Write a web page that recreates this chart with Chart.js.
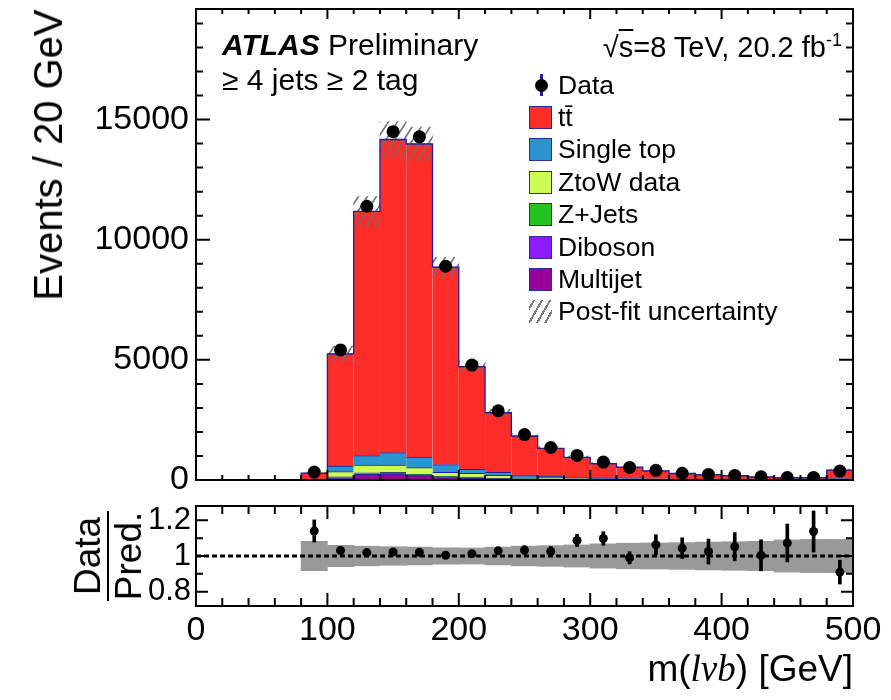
<!DOCTYPE html>
<html lang="en">
<head>
<meta charset="UTF-8" />
<title>m(lvb) - ATLAS Preliminary</title>
<script src="https://cdn.jsdelivr.net/npm/chart.js@4.4.1/dist/chart.umd.min.js"></script>
<style>
  body { margin: 0; background: #fff; font-family: "Liberation Sans", Arial, sans-serif; }
  #wrap { position: relative; width: 891px; height: 700px; overflow: hidden; }
  canvas { position: absolute; left: 0; }
  .txt { position: absolute; white-space: nowrap; line-height: 1; color: #000; }
  .box { position: absolute; width: 21px; height: 21px; border: 1px solid #2a2aa0; }
</style>
</head>
<body>
<div id="wrap">
  <canvas id="main" width="891" height="540" style="top:-30px"></canvas>
  <canvas id="ratio" width="891" height="230" style="top:470px"></canvas>

  <div class="txt" style="left:222px; top:30px; font-size:30px;"><b><i>ATLAS</i></b> Preliminary</div>
  <div class="txt" style="right:49px; top:31px; font-size:29px;">&radic;<span style="text-decoration:overline">s</span>=8 TeV, 20.2 fb<sup style="font-size:18px; vertical-align:11px;">-1</sup></div>
  <div class="txt" style="left:222px; top:65px; font-size:30px;">&ge; 4 jets &ge; 2 tag</div>

  <div class="txt" style="left:48px; top:155px; font-size:40px; transform:translate(-50%,-50%) rotate(-90deg);">Events / 20 GeV</div>
  <div class="txt" style="left:108px; top:556px; font-size:37px; transform:translate(-50%,-50%) rotate(-90deg); display:flex; flex-direction:column; align-items:center;">
    <span style="border-bottom:2px solid #000; padding:0 6px 1px;">Data</span>
    <span style="padding-top:1px;">Pred.</span>
  </div>
  <div class="txt" style="right:38px; top:650px; font-size:37px;">m(<i style="font-family:'Liberation Serif', serif;">l&nu;b</i>) [GeV]</div>

  <div id="legend"></div>
</div>

<script>
  // bins of 20 GeV, 0-500
  const BIN_CENTERS = [10, 30, 50, 70, 90, 110, 130, 150, 170, 190, 210, 230, 250, 270, 290, 310, 330, 350, 370, 390, 410, 430, 450, 470, 490];
  const BIN_EDGES = [0, 20, 40, 60, 80, 100, 120, 140, 160, 180, 200, 220, 240, 260, 280, 300, 320, 340, 360, 380, 400, 420, 440, 460, 480, 500];

  // stacked predictions (events / bin)
  const MULTIJET   = [0, 0, 0, 0, 5, 60, 236, 250, 180, 100, 80, 50, 30, 20, 15, 10, 8, 6, 5, 4, 3, 3, 2, 2, 8];
  const DIBOSON    = [0, 0, 0, 0, 2, 10, 10, 12, 10, 8, 6, 5, 4, 3, 3, 2, 2, 2, 1, 1, 1, 1, 1, 1, 3];
  const ZJETS      = [0, 0, 0, 0, 5, 60, 54, 55, 50, 40, 35, 25, 20, 15, 10, 8, 6, 5, 4, 3, 3, 2, 2, 2, 6];
  const ZTOW       = [0, 0, 0, 0, 10, 217, 325, 308, 274, 172, 157, 115, 76, 50, 35, 25, 18, 14, 10, 8, 6, 5, 4, 4, 15];
  const SINGLE_TOP = [0, 0, 0, 0, 15, 236, 389, 514, 444, 320, 166, 125, 78, 60, 45, 35, 28, 22, 16, 13, 10, 8, 7, 6, 25];
  const TTBAR      = [0, 0, 0, 0, 253, 4667, 10166, 13031, 13027, 8220, 4276, 2480, 1622, 1172, 832, 600, 468, 331, 234, 196, 157, 111, 79, 80, 353];

  const DATA = [null, null, null, null, 330, 5413, 11392, 14496, 14279, 8895, 4781, 2881, 1890, 1353, 1022, 747, 525, 404, 282, 231, 189, 131, 102, 108, 373];

  // ratio panel
  const RATIO     = [null, null, null, null, 1.140, 1.031, 1.019, 1.023, 1.021, 1.004, 1.013, 1.029, 1.033, 1.025, 1.087, 1.098, 0.990, 1.063, 1.044, 1.025, 1.052, 1.004, 1.073, 1.137, 0.910];
  const RATIO_ERR = [null, null, null, null, 0.062, 0.012, 0.010, 0.009, 0.009, 0.011, 0.015, 0.019, 0.024, 0.028, 0.034, 0.038, 0.034, 0.056, 0.058, 0.070, 0.079, 0.087, 0.106, 0.115, 0.067];
  // relative post-fit uncertainty of the prediction
  const MC_UNC    = [null, null, null, null, 0.082, 0.060, 0.055, 0.052, 0.050, 0.046, 0.045, 0.050, 0.055, 0.058, 0.062, 0.068, 0.072, 0.073, 0.075, 0.078, 0.080, 0.082, 0.090, 0.093, 0.093];

  const X_TICKS = [0, 100, 200, 300, 400, 500];
  const MAIN_Y_TICKS = [0, 5000, 10000, 15000];
  const RATIO_Y_TICKS = [0.8, 1, 1.2];

  const LEGEND_NAMES = ["Data", "t\u0074\u0304", "Single top", "ZtoW data", "Z+Jets", "Diboson", "Multijet", "Post-fit uncertainty"];
  const COLORS = {
    ttbar: "#ff2d2a",
    single: "#2b94d0",
    ztow: "#cdfd55",
    zjets: "#23c323",
    diboson: "#8a1cff",
    multijet: "#990099",
  };
  const NAVY = "#1f1f9e";
  const FONT = "'Liberation Sans', Arial, sans-serif";

  // hatch for post-fit uncertainty
  function hatchPattern() {
    const c = document.createElement("canvas");
    c.width = 9;
    c.height = 14;
    const g = c.getContext("2d");
    g.strokeStyle = "#6f6f6f";
    g.lineWidth = 1.6;
    g.beginPath();
    g.moveTo(0, 14); g.lineTo(9, 0);
    g.moveTo(-9, 14); g.lineTo(0, 0);
    g.moveTo(9, 14); g.lineTo(18, 0);
    g.stroke();
    return g.createPattern(c, "repeat");
  }

  // frame + inward ROOT style ticks
  function frameTicks(cfg) {
    return {
      id: "frameTicks",
      afterDatasetsDraw(chart) {
        const { ctx, chartArea: a, scales } = chart;
        const x = scales.x, y = scales.y;
        ctx.save();
        ctx.strokeStyle = "#000";
        ctx.lineWidth = 2;
        ctx.beginPath();
        cfg.xMajor.forEach((v) => {
          const px = x.getPixelForValue(v);
          ctx.moveTo(px, a.bottom); ctx.lineTo(px, a.bottom - cfg.xMajLen);
          ctx.moveTo(px, a.top); ctx.lineTo(px, a.top + cfg.xMajLen);
        });
        cfg.xMinor.forEach((v) => {
          const px = x.getPixelForValue(v);
          ctx.moveTo(px, a.bottom); ctx.lineTo(px, a.bottom - cfg.xMinLen);
          ctx.moveTo(px, a.top); ctx.lineTo(px, a.top + cfg.xMinLen);
        });
        cfg.yMajor.forEach((v) => {
          const py = y.getPixelForValue(v);
          ctx.moveTo(a.left, py); ctx.lineTo(a.left + cfg.yMajLen, py);
          ctx.moveTo(a.right, py); ctx.lineTo(a.right - cfg.yMajLen, py);
        });
        cfg.yMinor.forEach((v) => {
          const py = y.getPixelForValue(v);
          ctx.moveTo(a.left, py); ctx.lineTo(a.left + cfg.yMinLen, py);
          ctx.moveTo(a.right, py); ctx.lineTo(a.right - cfg.yMinLen, py);
        });
        ctx.stroke();
        ctx.strokeRect(a.left, a.top, a.right - a.left, a.bottom - a.top);
        ctx.restore();
      },
    };
  }

  const xMinor = [];
  for (let v = 20; v < 500; v += 20) if (v % 100 !== 0) xMinor.push(v);
  const mainYMinor = [];
  for (let v = 1000; v < 19600; v += 1000) if (v % 5000 !== 0) mainYMinor.push(v);

  // tables built from the arrays
  const totals = BIN_CENTERS.map((c, i) => MULTIJET[i] + DIBOSON[i] + ZJETS[i] + ZTOW[i] + SINGLE_TOP[i] + TTBAR[i]);
  const outline = BIN_EDGES.map((e, i) => ({ x: e, y: totals[Math.min(i, totals.length - 1)] }));
  const layer = (arr) => BIN_CENTERS.map((c, i) => ({ x: c, y: arr[i] }));
  const mainBand = [];
  const ratioBand = [];
  const dataPts = [];
  const ratioPts = [];
  const ratioErr = [];
  for (let i = 0; i < BIN_CENTERS.length; i++) {
    const c = BIN_CENTERS[i];
    if (MC_UNC[i] != null) {
      mainBand.push({ x: c, y: [totals[i] * (1 - MC_UNC[i]), totals[i] * (1 + MC_UNC[i])] });
      ratioBand.push({ x: c, y: [1 - MC_UNC[i], 1 + MC_UNC[i]] });
    }
    if (DATA[i] != null) dataPts.push({ x: c, y: DATA[i] });
    if (RATIO[i] != null) {
      ratioPts.push({ x: c, y: RATIO[i] });
      ratioErr.push({ x: c, y: [RATIO[i] - RATIO_ERR[i], RATIO[i] + RATIO_ERR[i]] });
    }
  }

  const mcLayer = (label, arr, color) => ({
    type: "bar",
    label: label,
    yAxisID: "y",
    data: layer(arr),
    backgroundColor: color,
    borderColor: NAVY,
    borderWidth: { top: 1, left: 0, right: 0, bottom: 0 },
    borderSkipped: false,
    order: 3,
  });

  const mainChart = new Chart(document.getElementById("main"), {
    type: "bar",
    data: {
      datasets: [
        { type: "line", label: "Data", yAxisID: "y2", data: dataPts, showLine: false, pointRadius: 6.5, pointBackgroundColor: "#000", pointBorderWidth: 0, order: 0 },
        { type: "line", label: "outline", yAxisID: "y2", data: outline, stepped: true, borderColor: NAVY, borderWidth: 1.3, pointRadius: 0, fill: false, order: 1 },
        { type: "bar", label: "Post-fit uncertainty", yAxisID: "y2", data: mainBand, backgroundColor: hatchPattern(), borderWidth: 0, order: 2 },
        mcLayer("Multijet", MULTIJET, COLORS.multijet),
        mcLayer("Diboson", DIBOSON, COLORS.diboson),
        mcLayer("Z+Jets", ZJETS, COLORS.zjets),
        mcLayer("ZtoW data", ZTOW, COLORS.ztow),
        mcLayer("Single top", SINGLE_TOP, COLORS.single),
        mcLayer("ttbar", TTBAR, COLORS.ttbar),
      ],
    },
    options: {
      responsive: false,
      animation: false,
      devicePixelRatio: 1,
      events: [],
      layout: { padding: { top: 39, right: 38, bottom: 30, left: 0 } },
      datasets: { bar: { barPercentage: 1, categoryPercentage: 1 } },
      plugins: { legend: { display: false }, tooltip: { enabled: false } },
      scales: {
        x: { type: "linear", min: 0, max: 500, stacked: true, offset: false, display: false, grid: { offset: false } },
        y: {
          stacked: true,
          min: 0,
          max: 19600,
          grid: { display: false, drawTicks: false },
          border: { display: false },
          afterBuildTicks: (s) => { s.ticks = MAIN_Y_TICKS.map((v) => ({ value: v })); },
          afterFit: (s) => { s.width = 196; s.paddingTop = 0; s.paddingBottom = 0; },
          ticks: { padding: 7, color: "#000", font: { family: FONT, size: 34 }, callback: (v) => String(v) },
        },
        y2: { display: false, min: 0, max: 19600 },
      },
    },
    plugins: [frameTicks({ xMajor: X_TICKS, xMinor: xMinor, xMajLen: 10, xMinLen: 5, yMajor: MAIN_Y_TICKS, yMinor: mainYMinor, yMajLen: 14, yMinLen: 7 })],
  });

  const ratioChart = new Chart(document.getElementById("ratio"), {
    type: "bar",
    data: {
      datasets: [
        { type: "line", data: ratioPts, showLine: false, pointRadius: 4.5, pointBackgroundColor: "#000", pointBorderWidth: 0, order: 0 },
        { type: "bar", data: ratioErr, backgroundColor: "#000", barThickness: 3, borderWidth: 0, order: 1 },
        { type: "line", data: [{ x: 0, y: 1 }, { x: 500, y: 1 }], borderColor: "#000", borderWidth: 3, borderDash: [5, 3], pointRadius: 0, fill: false, order: 2 },
        { type: "bar", data: ratioBand, backgroundColor: "#999999", borderWidth: 0, order: 3 },
      ],
    },
    options: {
      responsive: false,
      animation: false,
      devicePixelRatio: 1,
      events: [],
      layout: { padding: { top: 36, right: 38, bottom: 0, left: 0 } },
      datasets: { bar: { barPercentage: 1, categoryPercentage: 1 } },
      plugins: { legend: { display: false }, tooltip: { enabled: false } },
      scales: {
        x: {
          type: "linear",
          min: 0,
          max: 500,
          stacked: true,
          offset: false,
          grid: { display: false, drawTicks: false, offset: false },
          border: { display: false },
          afterBuildTicks: (s) => { s.ticks = X_TICKS.map((v) => ({ value: v })); },
          afterFit: (s) => { s.height = 94; s.paddingLeft = 0; s.paddingRight = 0; },
          ticks: { padding: 4, maxRotation: 0, color: "#000", font: { family: FONT, size: 34 }, callback: (v) => String(v) },
        },
        y: {
          min: 0.72,
          max: 1.28,
          grid: { display: false, drawTicks: false },
          border: { display: false },
          afterBuildTicks: (s) => { s.ticks = RATIO_Y_TICKS.map((v) => ({ value: v })); },
          afterFit: (s) => { s.width = 196; s.paddingTop = 0; s.paddingBottom = 0; },
          ticks: { padding: 5, color: "#000", font: { family: FONT, size: 31 }, callback: (v) => (v === 1 ? "1" : v.toFixed(1)) },
        },
      },
    },
    plugins: [frameTicks({ xMajor: X_TICKS, xMinor: xMinor, xMajLen: 13, xMinLen: 8, yMajor: RATIO_Y_TICKS, yMinor: [0.9, 1.1], yMajLen: 12, yMinLen: 7 })],
  });

  // legend (html text)
  const legendSwatches = [null, COLORS.ttbar, COLORS.single, COLORS.ztow, COLORS.zjets, COLORS.diboson, COLORS.multijet, "hatch"];
  const legend = document.getElementById("legend");
  let html = "";
  for (let i = 0; i < LEGEND_NAMES.length; i++) {
    const cy = 85 + i * 32.4;
    const sw = legendSwatches[i];
    if (sw === null) {
      html += `<div style="position:absolute; left:540px; top:${cy - 11}px; width:3px; height:22px; background:${NAVY};"></div>`;
      html += `<div style="position:absolute; left:535px; top:${cy - 6.5}px; width:13px; height:13px; border-radius:50%; background:#000;"></div>`;
    } else if (sw === "hatch") {
      html += `<div style="position:absolute; left:529px; top:${cy - 11.5}px; width:23px; height:23px; background:repeating-linear-gradient(-60deg, transparent 0 5px, #7a7a7a 5px 7px);"></div>`;
    } else {
      html += `<div class="box" style="left:529px; top:${cy - 11.5}px; background:${sw};"></div>`;
    }
    html += `<div class="txt" style="left:558px; top:${cy - 13.5}px; font-size:26.5px;">${LEGEND_NAMES[i]}</div>`;
  }
  legend.innerHTML = html;
</script>
</body>
</html>
